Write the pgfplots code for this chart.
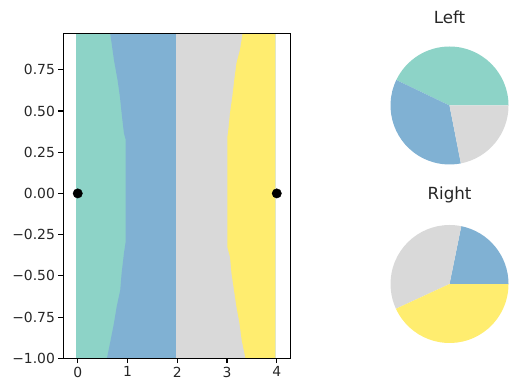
\documentclass[border=0pt]{standalone}
\usepackage{fontspec}
\setmainfont{DejaVu Sans}
\usepackage{pgfplots}
\pgfplotsset{compat=1.18}
\definecolor{sA}{HTML}{8DD3C7}
\definecolor{sB}{HTML}{80B1D3}
\definecolor{sC}{HTML}{D9D9D9}
\definecolor{sD}{HTML}{FFED6F}
\begin{document}
\begin{tikzpicture}[x=1bp,y=1bp]
\path[use as bounding box] (0,0) rectangle (509,387);
\begin{axis}[at={(63.3bp,28.7bp)}, anchor=south west, scale only axis,
  width=227.4bp, height=325bp,
  xmin=-0.29, xmax=4.28, ymin=-1, ymax=0.971,
  axis on top,
  xtick={0,1,2,3,4}, xticklabels={0,1,2,3,4},
  ytick={-1,-0.75,-0.5,-0.25,0,0.25,0.5,0.75},
  yticklabels={−1.00,−0.75,−0.50,−0.25,0.00,0.25,0.50,0.75},
  tick align=outside, tick pos=left,
  major tick length=4.9bp,
  every tick/.append style={black, line width=1.1bp},
  axis line style={line width=1.1bp},
  ticklabel style={font=\fontsize{13.9bp}{16bp}\selectfont, text=black!85},
]
\addplot[fill=sA, draw=none] coordinates {(-0.04,-1) (3.97,-1) (3.97,0.971) (-0.04,0.971)};
\addplot[fill=sB, draw=none] coordinates {(3.97,-1) (0.585,-1) (0.600,-0.981) (0.661,-0.890) (0.728,-0.787) (0.782,-0.688) (0.854,-0.587) (0.882,-0.484) (0.93,-0.36) (0.96,-0.30) (0.96,0.33) (0.928,0.366) (0.882,0.487) (0.848,0.586) (0.80,0.688) (0.728,0.809) (0.653,0.971) (3.97,0.971)};
\addplot[fill=sC, draw=none] coordinates {(1.98,-1) (3.97,-1) (3.97,0.971) (1.98,0.971)};
\addplot[fill=sD, draw=none] coordinates {(3.97,-1) (3.37,-1) (3.35,-0.969) (3.295,-0.890) (3.25,-0.787) (3.19,-0.688) (3.14,-0.587) (3.09,-0.484) (3.06,-0.385) (3.005,-0.324) (3.005,0.34) (3.02,0.366) (3.06,0.487) (3.106,0.586) (3.146,0.688) (3.19,0.79) (3.26,0.87) (3.314,0.971) (3.97,0.971)};
\addplot[only marks, mark=*, mark size=4.7bp, black] coordinates {(0,0) (4,0)};
\end{axis}
% Left pie
\begin{axis}[at={(449.5bp,281.5bp)}, anchor=center, scale only axis,
  width=118bp, height=118bp, hide axis, clip=false,
  xmin=-1, xmax=1, ymin=-1, ymax=1]
\addplot[fill=sA, draw=none] coordinates {(0,0) (1,0)} arc[start angle=0, end angle=154.4, radius=59bp] -- cycle;
\addplot[fill=sB, draw=none] coordinates {(0,0) (-0.9018,0.4321)} arc[start angle=154.4, end angle=281.1, radius=59bp] -- cycle;
\addplot[fill=sC, draw=none] coordinates {(0,0) (0.1925,-0.9813)} arc[start angle=281.1, end angle=360, radius=59bp] -- cycle;
\end{axis}
% Right pie
\begin{axis}[at={(449.5bp,103bp)}, anchor=center, scale only axis,
  width=118bp, height=118bp, hide axis, clip=false,
  xmin=-1, xmax=1, ymin=-1, ymax=1]
\addplot[fill=sB, draw=none] coordinates {(0,0) (1,0)} arc[start angle=0, end angle=78.5, radius=59bp] -- cycle;
\addplot[fill=sC, draw=none] coordinates {(0,0) (0.1994,0.9799)} arc[start angle=78.5, end angle=204.8, radius=59bp] -- cycle;
\addplot[fill=sD, draw=none] coordinates {(0,0) (-0.9078,-0.4195)} arc[start angle=204.8, end angle=360, radius=59bp] -- cycle;
\end{axis}
\node[anchor=base, inner sep=0pt, text=black!85, font=\fontsize{16.7bp}{20bp}\selectfont] at (449.5bp,363.7bp) {Left};
\node[anchor=base, inner sep=0pt, text=black!85, font=\fontsize{16.7bp}{20bp}\selectfont] at (449.5bp,187.8bp) {Right};
\end{tikzpicture}
\end{document}
